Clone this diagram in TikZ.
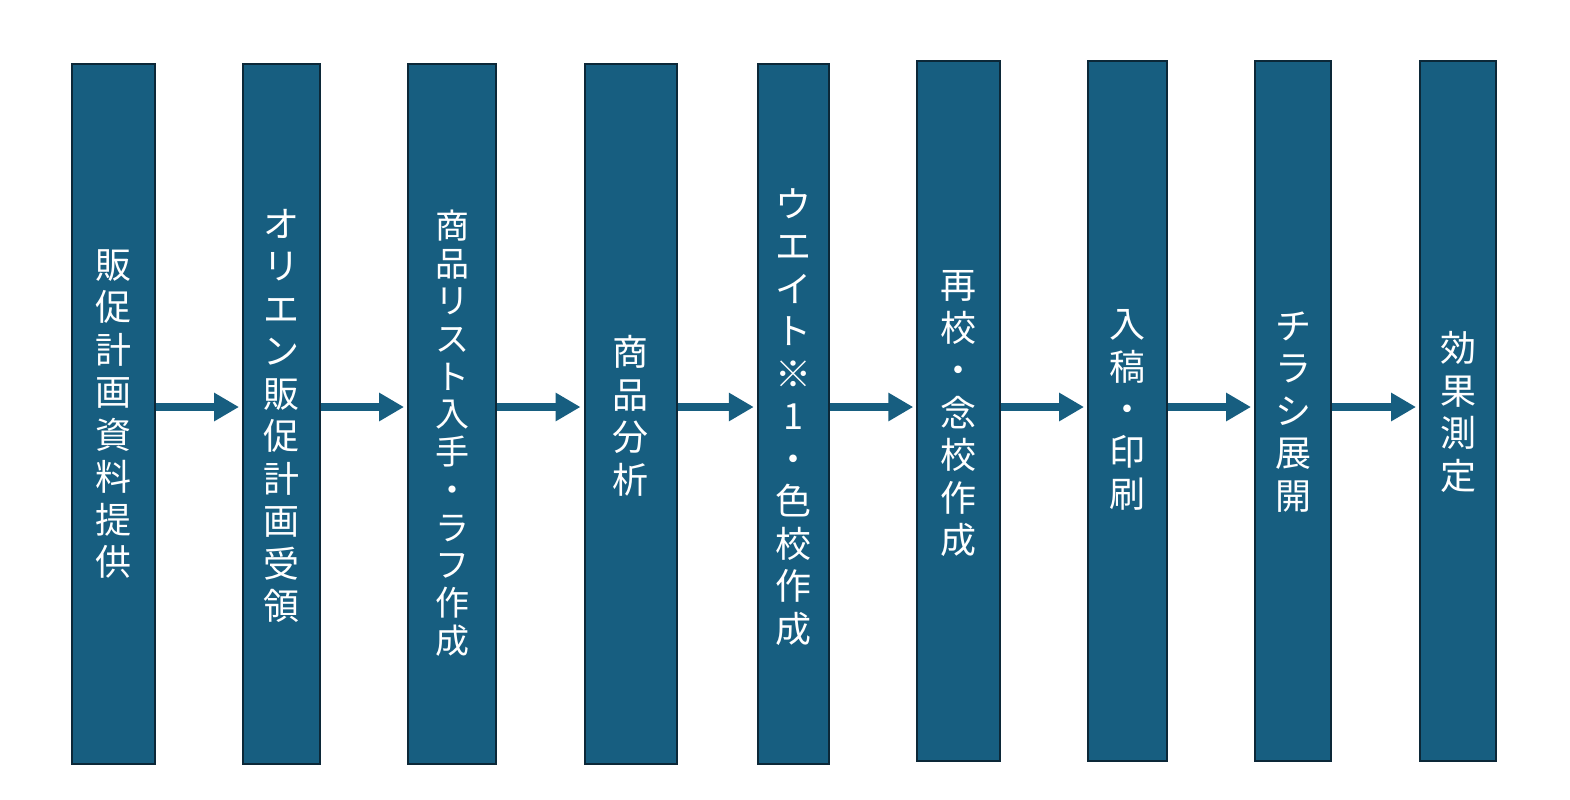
\documentclass[tikz,border=0pt]{standalone}
\usepackage{fontspec}
\newfontfamily\jp{Noto Sans CJK JP}
\usetikzlibrary{arrows.meta}
\definecolor{barblue}{RGB}{23,94,128}
\definecolor{barline}{RGB}{12,40,56}

\begin{document}
\begin{tikzpicture}[x=0.5pt,y=-0.5pt]
    \tikzstyle{bar}=[draw=barline, line width=1pt, fill=barblue, minimum height=350pt, inner sep=0pt]
    \tikzstyle{txt}=[text=white, align=center, inner sep=0pt, font=\jp\fontsize{18}{21.25}\selectfont]
    \tikzstyle{flow}=[draw=barblue, line width=4pt, -{Triangle[length=12.5pt,width=13.5pt]}, shorten >=1.5pt]

    \useasboundingbox (0,0) rectangle (1570,799);

    % bars
    \node[bar, minimum width=41.5pt]  (b1) at (113.5,414) {};
    \node[bar, minimum width=38.5pt]  (b2) at (281.5,414) {};
    \node[bar, minimum width=44pt]    (b3) at (452,414) {};
    \node[bar, minimum width=46pt]    (b4) at (630.5,414) {};
    \node[bar, minimum width=35.75pt] (b5) at (793.5,414) {};
    \node[bar, minimum width=41.25pt] (b6) at (958.5,411) {};
    \node[bar, minimum width=39.5pt]  (b7) at (1127.5,411) {};
    \node[bar, minimum width=38pt]    (b8) at (1293,411) {};
    \node[bar, minimum width=38pt]    (b9) at (1458,411) {};

    % labels
    \node[txt] (t1) at (113.5,414) {販\\促\\計\\画\\資\\料\\提\\供};
    \node[txt] (t2) at (281.5,416) {オ\\リ\\エ\\ン\\販\\促\\計\\画\\受\\領};
    \node[txt, font=\jp\fontsize{17}{18.85}\selectfont] (t3) at (452,433) {商\\品\\リ\\ス\\ト\\入\\手\\・\\ラ\\フ\\作\\成};
    \node[txt] (t4) at (630.5,416) {商\\品\\分\\析};
    \node[txt] (t5) at (793.5,417) {ウ\\エ\\イ\\ト\\※\\1\\・\\色\\校\\作\\成};
    \node[txt] (t6) at (958.5,414) {再\\校\\・\\念\\校\\作\\成};
    \node[txt] (t7) at (1127.5,410) {入\\稿\\・\\印\\刷};
    \node[txt] (t8) at (1293,412) {チ\\ラ\\シ\\展\\開};
    \node[txt] (t9) at (1458,412) {効\\果\\測\\定};

    % arrows
    \draw[flow] (b1.east |- 0,407) -- (b2.west |- 0,407);
    \draw[flow] (b2.east |- 0,407) -- (b3.west |- 0,407);
    \draw[flow] (b3.east |- 0,407) -- (b4.west |- 0,407);
    \draw[flow] (b4.east |- 0,407) -- (b5.west |- 0,407);
    \draw[flow] (b5.east |- 0,407) -- (b6.west |- 0,407);
    \draw[flow] (b6.east |- 0,407) -- (b7.west |- 0,407);
    \draw[flow] (b7.east |- 0,407) -- (b8.west |- 0,407);
    \draw[flow] (b8.east |- 0,407) -- (b9.west |- 0,407);
\end{tikzpicture}
\end{document}
